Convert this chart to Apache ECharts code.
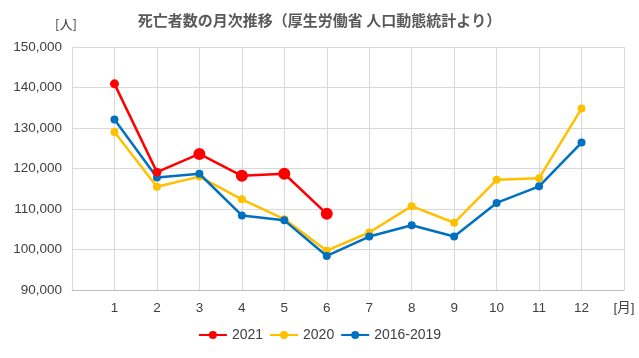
<!DOCTYPE html>
<html>
<head>
<meta charset="utf-8">
<script src="https://cdn.jsdelivr.net/npm/echarts@6/dist/echarts.min.js"></script>
<style>
html,body{margin:0;padding:0;background:#fff;}
#chart{width:639px;height:358px;}
</style>
</head>
<body>
<div id="chart"></div>
<script>
var months = [1,2,3,4,5,6,7,8,9,10,11,12];
var data2021 = [140900,119100,123600,118200,118700,108800];
var data2020 = [129000,115500,118000,112400,107500,99700,104200,110700,106600,117200,117600,134800];
var data2016_2019 = [132100,117800,118700,108400,107200,98400,103200,106000,103200,111500,115600,126400];
var sizes2021 = [9,9,12,12,12,12];
var seriesNames = ['2021','2020','2016-2019'];
var colors = ['#ff0000','#ffc000','#0070c0'];
var title = '死亡者数の月次推移（厚生労働省 人口動態統計より）';

function pairs(vals){ return vals.map(function(v,i){ return [months[i], v]; }); }

var chart = echarts.init(document.getElementById('chart'));
var font = '"Liberation Sans", "Noto Sans CJK JP", sans-serif';
chart.setOption({
  animation:false,
  backgroundColor:'#ffffff',
  color: colors,
  title:{
    text: title, left:'center', top:8,
    textStyle:{fontSize:15, fontWeight:'bold', color:'#595959', fontFamily:'"Noto Sans CJK JP", sans-serif'}
  },
  grid:{left:72, right:15, top:47, bottom:68},
  legend:{
    bottom:11, left:'center',
    itemWidth:28, itemHeight:10, itemGap:6,
    textStyle:{fontSize:14, color:'#404040', fontFamily:font},
    data: seriesNames
  },
  xAxis:{
    type:'value', min:0, max:13, interval:1,
    axisLine:{lineStyle:{color:'#bfbfbf'}},
    axisTick:{show:false},
    axisLabel:{
      color:'#404040', fontSize:13.5, fontFamily:font, margin:12,
      formatter:function(v){ if(v===0) return ''; if(v===13) return '[月]'; return String(v); }
    },
    splitLine:{show:true, lineStyle:{color:'#d9d9d9'}}
  },
  yAxis:{
    type:'value', min:90000, max:150000, interval:10000,
    name:'[人]', nameLocation:'end', nameGap:16,
    nameTextStyle:{color:'#404040', fontSize:13, fontFamily:'"Noto Sans CJK JP", sans-serif', padding:[0,12,0,0]},
    axisLine:{show:true, lineStyle:{color:'#d9d9d9'}},
    axisTick:{show:false},
    axisLabel:{color:'#404040', fontSize:13.5, fontFamily:font, margin:10,
      formatter:function(v){ return v.toLocaleString('en-US'); }},
    splitLine:{show:true, lineStyle:{color:'#d9d9d9'}}
  },
  series:[
    {name:seriesNames[0], type:'line', z:5,
     data: data2021.map(function(v,i){ return {value:[months[i], v], symbolSize:sizes2021[i]}; }),
     symbol:'circle', symbolSize:9, lineStyle:{width:2.5}, itemStyle:{color:colors[0]}},
    {name:seriesNames[1], type:'line', z:3, data: pairs(data2020),
     symbol:'circle', symbolSize:8, lineStyle:{width:2.5}, itemStyle:{color:colors[1]}},
    {name:seriesNames[2], type:'line', z:4, data: pairs(data2016_2019),
     symbol:'circle', symbolSize:8, lineStyle:{width:2.5}, itemStyle:{color:colors[2]}}
  ]
});
</script>
</body>
</html>
